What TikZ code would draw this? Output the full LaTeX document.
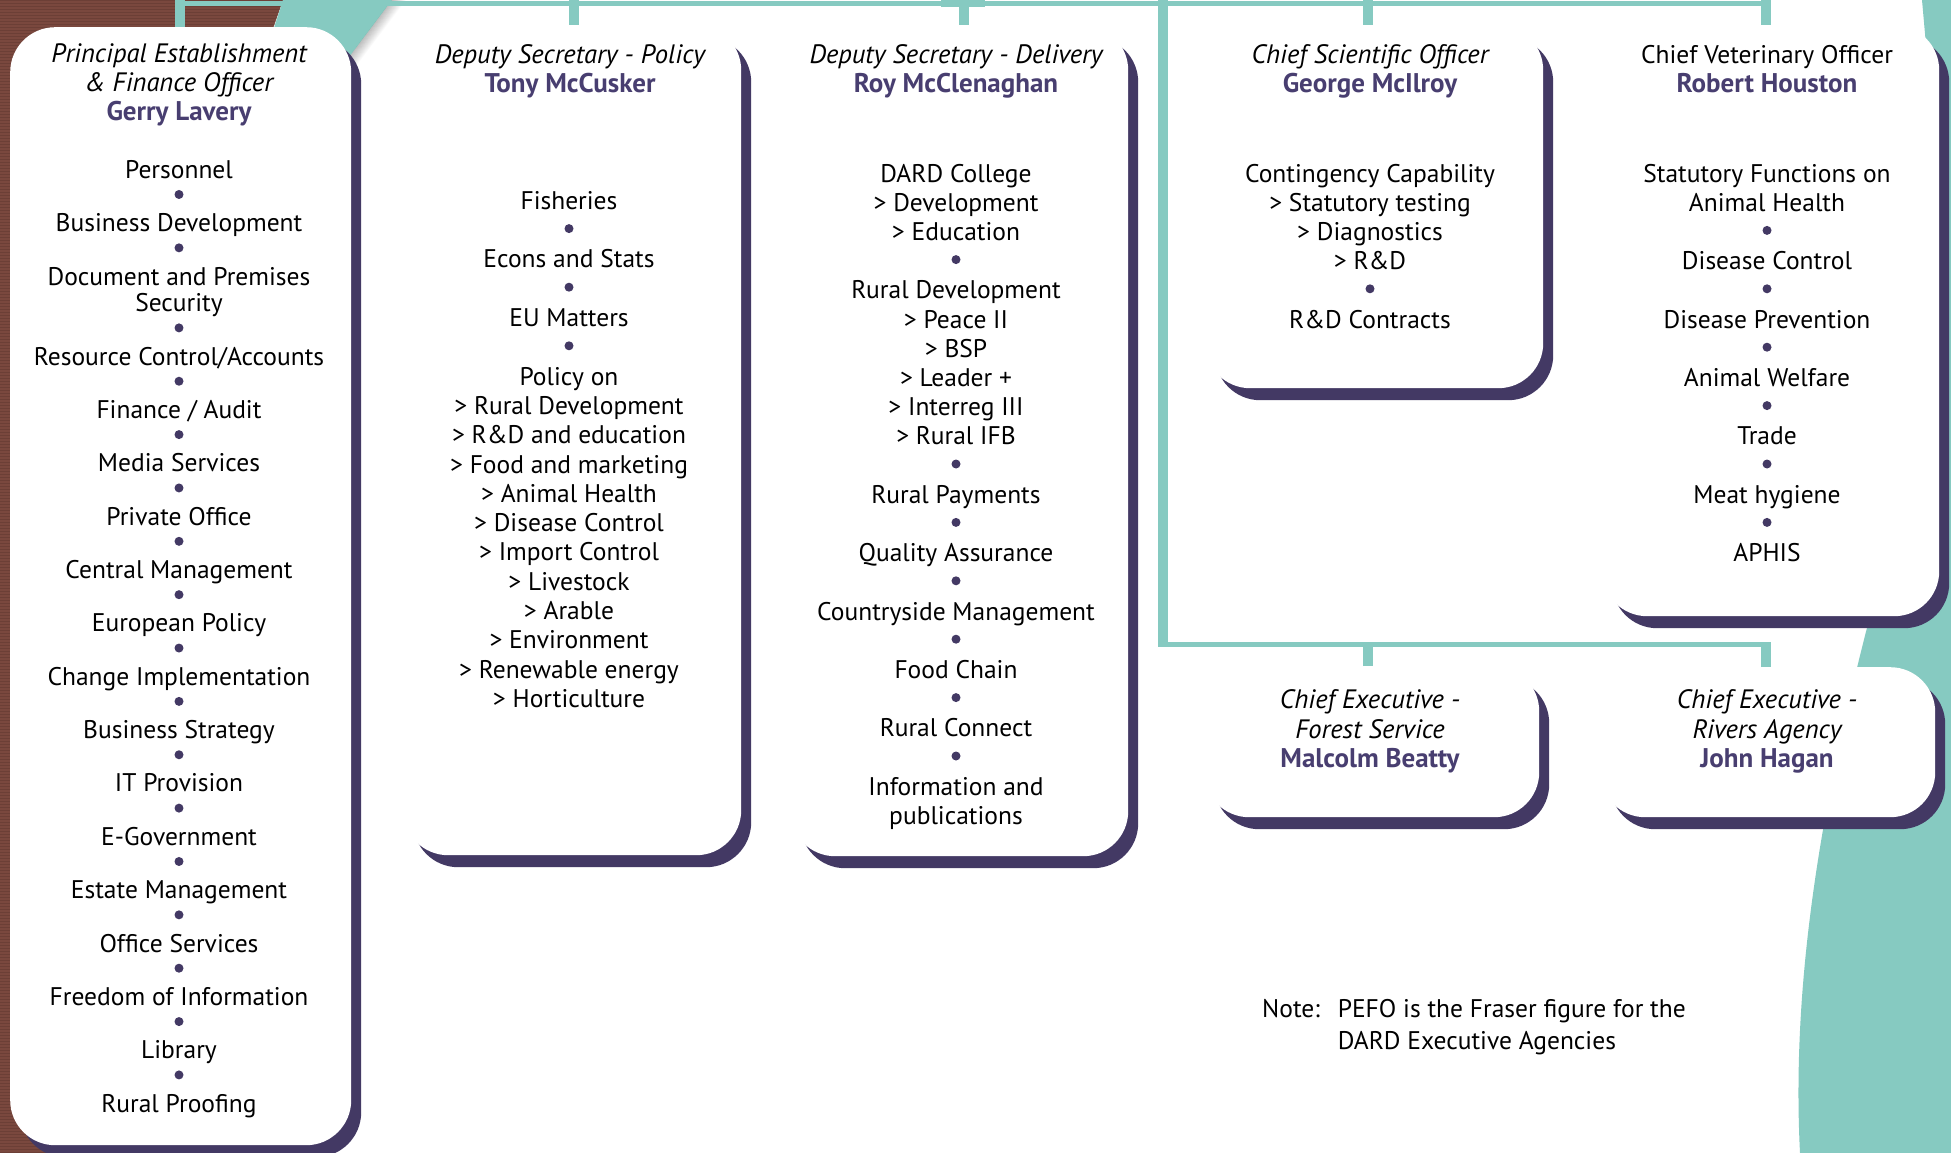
\documentclass[tikz,border=0pt]{standalone}
\usepackage{fontspec}
\setmainfont{PT Sans}
\usetikzlibrary{shadows}
\definecolor{tealc}{RGB}{134,202,193}
\definecolor{dpurple}{RGB}{67,57,100}
\definecolor{npurple}{RGB}{72,62,112}
\definecolor{brownbg}{RGB}{122,72,62}
\begin{document}
\begin{tikzpicture}[x=1pt,y=-1pt,
  box/.style={draw=none, fill=white, rounded corners=45pt, inner sep=0pt, anchor=north west,
     drop shadow={shadow xshift=10pt, shadow yshift=-12pt, opacity=1, fill=dpurple}},
  body/.style={anchor=base, inner sep=0pt, font=\fontsize{25.5}{29}\selectfont},
  ttl/.style={anchor=base, inner sep=0pt, font=\fontsize{26.6}{29}\selectfont\itshape},
  nm/.style={anchor=base, inner sep=0pt, font=\fontsize{27}{29}\selectfont\bfseries, text=npurple},
  vconn/.style={draw=tealc, line width=10pt},
  hconn/.style={draw=tealc, line width=5pt},
  dot/.style={fill=dpurple}
]
\clip (0,0) rectangle (1951,1153);
\fill[white] (0,0) rectangle (1951,1153);
% brown left background
\fill[brownbg] (0,0) -- (283,0) -- (262,60) -- (262,1153) -- (0,1153) -- cycle;
\begin{scope}
  \clip (0,0) -- (283,0) -- (262,60) -- (262,1153) -- (0,1153) -- cycle;
  \foreach \yy in {0,3,...,1152} \draw[brownbg!75!black, line width=0.8pt, opacity=0.45] (0,\yy) -- (300,\yy);
\end{scope}
% teal fold
\fill[tealc] (283,0) -- (392,0) -- (343,65) -- (262,65) -- cycle;
\foreach \i in {0,...,13} {
  \pgfmathsetmacro\op{0.22*(1-\i/14)}
  \fill[black, opacity=\op] (392+\i,0) -- (393+\i,0) -- (344+\i,65) -- (343+\i,65) -- cycle;
}
% teal wave on the right
\fill[tealc] (1922,0) -- (1951,0) -- (1951,1153) -- (1800,1153)
   .. controls (1790,960) and (1830,760) .. (1885,560) -- (1926,45) -- cycle;

% boxes
\node[box, minimum width=341pt, minimum height=1118pt] (pefo) at (10,27) {};
\node[box, minimum width=338pt, minimum height=830pt] (pol) at (403,25) {};
\node[box, minimum width=338pt, minimum height=831pt] (del) at (790,25) {};
\node[box, minimum width=338pt, minimum height=363pt] (cso) at (1205,25) {};
\node[box, minimum width=337pt, minimum height=591pt] (cvo) at (1602,25) {};
\node[box, minimum width=335pt, minimum height=151pt] (fs) at (1204,666) {};
\node[box, minimum width=335pt, minimum height=150pt] (ra) at (1600,667) {};

% connectors
\coordinate (top) at (0,0);
\coordinate (bus) at (0,4);
\coordinate (bus2) at (0,644);
\coordinate (parent) at (963,0);
\coordinate (parentend) at (963,7);
\coordinate (trunktop) at (1163,0);
\coordinate (trunkbot) at (1163,647);
\draw[tealc, line width=44pt] (parent) -- (parentend);
\draw[hconn] ([xshift=-5pt]pefo.north |- bus) -- ([xshift=0.5pt]cvo.north |- bus);
\draw[vconn] ([xshift=-0.5pt]pefo.north) -- ([xshift=-0.5pt]pefo.north |- top);
\draw[vconn] ([xshift=2pt]pol.north) -- ([xshift=2pt]pol.north |- top);
\draw[vconn] ([xshift=5pt]del.north) -- ([xshift=5pt]del.north |- top);
\draw[vconn] ([xshift=-6.5pt]cso.north) -- ([xshift=-6.5pt]cso.north |- top);
\draw[vconn] ([xshift=-4.5pt]cvo.north) -- ([xshift=-4.5pt]cvo.north |- top);
\draw[vconn] (trunktop) -- (trunkbot);
\draw[hconn] ([xshift=-5pt]trunkbot |- bus2) -- ([xshift=3.5pt]ra.north |- bus2);
\draw[vconn] ([xshift=-4pt]fs.north) -- ([xshift=-4pt]fs.north |- bus2);
\draw[vconn] ([xshift=-1.5pt]ra.north) -- ([xshift=-1.5pt]ra.north |- bus2);

% PEFO
\node[ttl] (pefo-t1) at (179,62.7) {Principal Establishment};
\node[ttl] (pefo-t2) at (179,91.7) {\& Finance Officer};
\node[nm] (pefo-n) at (179,120.7) {Gerry Lavery};
\foreach \k/\t in {0/Personnel, 2/Business Development, 4/Document and Premises, 5/Security,
  7/{Resource Control/Accounts}, 9/{Finance / Audit}, 11/Media Services, 13/Private Office,
  15/Central Management, 17/European Policy, 19/Change Implementation, 21/Business Strategy,
  23/IT Provision, 25/E-Government, 27/Estate Management, 29/Office Services,
  31/Freedom of Information, 33/Library, 35/Rural Proofing}
  \node[body] (pe\k) at (179,178.3+26.68*\k) {\t};
\foreach \k in {1,3,6,8,10,12,14,16,18,20,22,24,26,28,30,32,34}
  \fill[dot] (179,178.3+26.68*\k-10.5) circle (4.5);

% Policy
\node[ttl] (pol-t) at (570,63.5) {Deputy Secretary - Policy};
\node[nm] (pol-n) at (570,92.5) {Tony McCusker};
\foreach \k/\t in {0/Fisheries, 2/Econs and Stats, 4/EU Matters, 6/Policy on,
  7/> Rural Development, 8/> R\&D and education, 9/> Food and marketing, 10/> Animal Health,
  11/> Disease Control, 12/> Import Control, 13/> Livestock, 14/> Arable, 15/> Environment,
  16/> Renewable energy, 17/> Horticulture}
  \node[body] (po\k) at (569,209.3+29.3*\k) {\t};
\foreach \k in {1,3,5}
  \fill[dot] (569,209.3+29.3*\k-10) circle (4.5);

% Delivery
\node[ttl] (del-t) at (956,63.5) {Deputy Secretary - Delivery};
\node[nm] (del-n) at (956,92.5) {Roy McClenaghan};
\foreach \k/\t in {0/DARD College, 1/> Development, 2/> Education, 4/Rural Development,
  5/> Peace II, 6/> BSP, 7/> Leader +, 8/> Interreg III, 9/> Rural IFB, 11/Rural Payments,
  13/Quality Assurance, 15/Countryside Management, 17/Food Chain, 19/Rural Connect,
  21/Information and, 22/publications}
  \node[body] (de\k) at (956,182+29.2*\k) {\t};
\foreach \k in {3,10,12,14,16,18,20}
  \fill[dot] (956,182+29.2*\k-10) circle (4.5);

% CSO
\node[ttl] (cso-t) at (1370,63.5) {Chief Scientific Officer};
\node[nm] (cso-n) at (1370,92.5) {George McIlroy};
\foreach \k/\t in {0/Contingency Capability, 1/> Statutory testing, 2/> Diagnostics,
  3/> R\&D, 5/R\&D Contracts}
  \node[body] (cs\k) at (1370,182+29.2*\k) {\t};
\fill[dot] (1370,182+29.2*4-10) circle (4.5);

% CVO
\node[body] (cvo-t) at (1767,63.5) {Chief Veterinary Officer};
\node[nm] (cvo-n) at (1767,92.5) {Robert Houston};
\foreach \k/\t in {0/Statutory Functions on, 1/Animal Health, 3/Disease Control,
  5/Disease Prevention, 7/Animal Welfare, 9/Trade, 11/Meat hygiene, 13/APHIS}
  \node[body] (cv\k) at (1767,182+29.2*\k) {\t};
\foreach \k in {2,4,6,8,10,12}
  \fill[dot] (1767,182+29.2*\k-10) circle (4.5);

% Forest Service
\node[ttl] (fs-t1) at (1370,708.5) {Chief Executive -};
\node[ttl] (fs-t2) at (1370,738) {Forest Service};
\node[nm] (fs-n) at (1370,767) {Malcolm Beatty};

% Rivers Agency
\node[ttl] (ra-t1) at (1767,708.5) {Chief Executive -};
\node[ttl] (ra-t2) at (1767,738) {Rivers Agency};
\node[nm] (ra-n) at (1767,767) {John Hagan};

% Note
\node[body, anchor=base west] (note-l) at (1262,1017) {Note:};
\node[body, anchor=base west] (note-1) at (1337.6,1017) {PEFO is the Fraser figure for the};
\node[body, anchor=base west] (note-2) at (1337.6,1049) {DARD Executive Agencies};
\end{tikzpicture}
\end{document}
